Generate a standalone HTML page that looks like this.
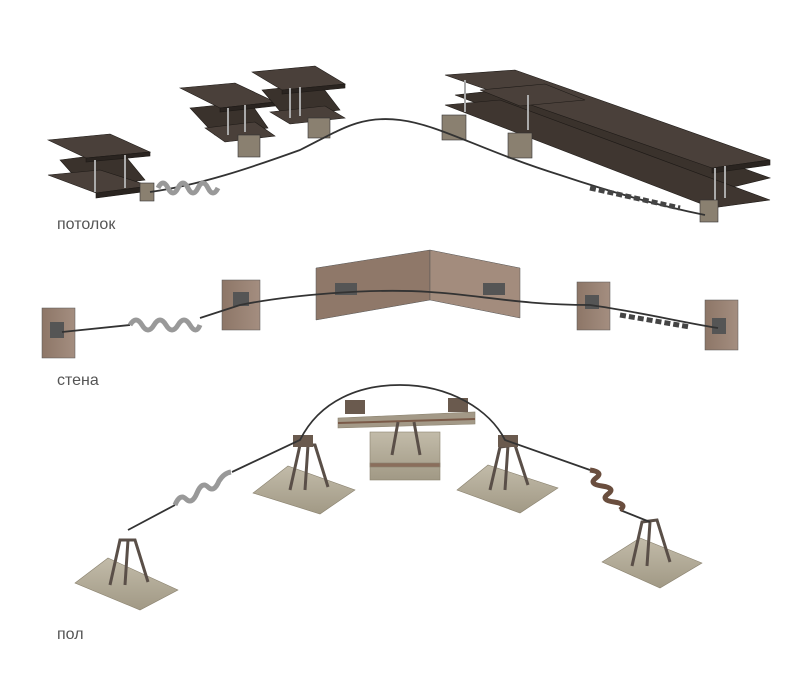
<!DOCTYPE html>
<html><head><meta charset="utf-8"><style>
html,body{margin:0;padding:0;background:#fff;}
.wrap{position:relative;width:800px;height:677px;overflow:hidden;background:#fff;}
.lbl{position:absolute;font-family:"Liberation Sans",sans-serif;font-size:16px;color:#555;}
svg{position:absolute;left:0;top:0;}
</style></head><body><div class="wrap">
<svg width="800" height="677" viewBox="0 0 800 677">
<defs>
<linearGradient id="wall" x1="0" y1="0" x2="1" y2="0"><stop offset="0" stop-color="#8d7667"/><stop offset="1" stop-color="#a48e80"/></linearGradient>
<linearGradient id="plate" x1="0" y1="0" x2="0" y2="1"><stop offset="0" stop-color="#c2bba9"/><stop offset="1" stop-color="#a19985"/></linearGradient>
</defs>
<!-- CEILING beams (I-beams) -->
<g stroke="#1e1a17" stroke-width="0.6">
<!-- left beam -->
<polygon points="60,160 122,152 145,180 85,188" fill="#3a322c"/>
<polygon points="48,140 110,134 150,152 86,158" fill="#4a403a"/>
<polygon points="86,158 150,152 150,156 86,162" fill="#2a2420"/>
<polygon points="48,175 100,170 150,186 96,193" fill="#4a403a"/>
<polygon points="96,193 150,186 150,191 96,198" fill="#2a2420"/>
<!-- beam 2 -->
<polygon points="190,108 250,102 268,128 215,135" fill="#3a322c"/>
<polygon points="180,88 235,83 275,102 220,108" fill="#4a403a"/>
<polygon points="220,108 275,102 275,106 220,112" fill="#2a2420"/>
<polygon points="205,128 255,122 275,136 225,142" fill="#4a403a"/>
<!-- beam 3 -->
<polygon points="262,90 320,84 340,110 285,117" fill="#3a322c"/>
<polygon points="252,72 315,66 345,84 282,90" fill="#4a403a"/>
<polygon points="282,90 345,84 345,88 282,94" fill="#2a2420"/>
<polygon points="270,112 325,106 345,118 290,124" fill="#4a403a"/>
<!-- long beam -->
<polygon points="455,95 520,88 770,178 712,192" fill="#3a322c"/>
<polygon points="445,75 515,70 770,160 712,168" fill="#4a403a"/>
<polygon points="712,168 770,160 770,165 712,173" fill="#2a2420"/>
<polygon points="445,105 500,100 770,200 712,208" fill="#3f3630"/>
<polygon points="480,90 545,84 585,100 520,106" fill="#4a403a"/>
</g>
<g stroke="#aaa" stroke-width="2">
<line x1="95" y1="160" x2="95" y2="192"/><line x1="125" y1="155" x2="125" y2="188"/>
<line x1="228" y1="108" x2="228" y2="135"/><line x1="245" y1="105" x2="245" y2="132"/>
<line x1="290" y1="88" x2="290" y2="118"/><line x1="300" y1="87" x2="300" y2="116"/>
<line x1="465" y1="80" x2="465" y2="112"/><line x1="528" y1="95" x2="528" y2="130"/>
<line x1="715" y1="168" x2="715" y2="200"/><line x1="725" y1="166" x2="725" y2="198"/>
</g>
<g fill="#8a8070" stroke="#333" stroke-width="0.6">
<rect x="238" y="135" width="22" height="22"/><rect x="308" y="118" width="22" height="20"/>
<rect x="442" y="115" width="24" height="25"/><rect x="508" y="133" width="24" height="25"/>
<rect x="140" y="183" width="14" height="18"/><rect x="700" y="200" width="18" height="22"/>
</g>
<path d="M150,192 C200,185 250,168 300,150 C340,130 360,115 400,120 C440,125 480,150 560,175 C620,195 670,208 705,215" fill="none" stroke="#333" stroke-width="1.8"/>
<path d="M158,188 q5,-10 10,0 q5,10 10,0 q5,-10 10,0 q5,10 10,0 q5,-10 10,0 q5,10 10,0" fill="none" stroke="#999" stroke-width="5"/>
<path d="M590,188 l90,20" stroke="#444" stroke-width="5" stroke-dasharray="6 3" fill="none"/>
<!-- WALL -->
<g stroke="#555" stroke-width="0.5">
<rect x="42" y="308" width="33" height="50" fill="url(#wall)"/>
<rect x="222" y="280" width="38" height="50" fill="url(#wall)"/>
<polygon points="316,268 430,250 430,300 316,320" fill="#8f7869"/>
<polygon points="430,250 520,268 520,318 430,300" fill="#a38c7d"/>
<rect x="577" y="282" width="33" height="48" fill="url(#wall)"/>
<rect x="705" y="300" width="33" height="50" fill="url(#wall)"/>
</g>
<g fill="#555"><rect x="50" y="322" width="14" height="16"/><rect x="233" y="292" width="16" height="14"/><rect x="335" y="283" width="22" height="12"/><rect x="483" y="283" width="22" height="12"/><rect x="585" y="295" width="14" height="14"/><rect x="712" y="318" width="14" height="16"/></g>
<path d="M62,332 L130,325 M200,318 L240,305 C290,295 370,288 430,292 C480,295 520,305 590,305 C640,312 680,322 718,328" fill="none" stroke="#333" stroke-width="1.8"/>
<path d="M130,325 q6,-10 12,0 q6,10 12,0 q6,-10 12,0 q6,10 12,0 q6,-10 12,0 q6,10 10,0" fill="none" stroke="#999" stroke-width="5"/>
<path d="M620,315 l70,12" stroke="#444" stroke-width="5" stroke-dasharray="6 3" fill="none"/>
<!-- FLOOR -->
<g stroke="#8a826f" stroke-width="0.6">
<polygon points="75,583 108,558 178,590 140,610" fill="url(#plate)"/>
<polygon points="253,493 288,466 355,490 320,514" fill="url(#plate)"/>
<polygon points="338,418 475,412 475,424 338,428" fill="#a39987"/>
<line x1="338" y1="423" x2="475" y2="419" stroke="#7a5a48" stroke-width="2"/>
<rect x="370" y="432" width="70" height="48" fill="url(#plate)"/>
<rect x="370" y="463" width="70" height="4" fill="#8a6e5c"/>
<polygon points="457,490 488,465 558,488 520,513" fill="url(#plate)"/>
<polygon points="602,562 640,538 702,563 660,588" fill="url(#plate)"/>
</g>
<g fill="none" stroke="#5a4f48" stroke-width="3">
<path d="M110,585 L120,540 L135,540 L148,582 M125,585 L128,540"/>
<path d="M290,490 L300,445 L315,445 L328,487 M305,490 L308,445"/>
<path d="M490,490 L500,447 L515,445 L528,485 M505,490 L508,445"/>
<path d="M632,566 L642,522 L657,520 L670,562 M647,566 L650,522"/>
<path d="M392,455 L398,422 M420,455 L414,422"/>
</g>
<g fill="#6a5a4e"><rect x="345" y="400" width="20" height="14"/><rect x="448" y="398" width="20" height="14"/><rect x="293" y="435" width="20" height="12"/><rect x="498" y="435" width="20" height="12"/></g>
<path d="M128,530 L175,505 M232,472 L300,440 C320,400 360,385 400,385 C450,385 490,410 505,440 L590,470 M620,510 L650,522" fill="none" stroke="#333" stroke-width="1.8"/>
<path d="M175,505 q5,-12 11,-6 q6,6 11,-6 q5,-12 11,-6 q6,6 11,-6 q5,-8 12,-9" fill="none" stroke="#999" stroke-width="5"/>
<path d="M590,470 q14,2 6,8 q-8,6 6,8 q14,2 6,8 q-8,6 6,8 q14,2 6,8" fill="none" stroke="#6a4e3e" stroke-width="5"/>
</svg>
<div class="lbl" style="left:57px;top:216px;">потолок</div>
<div class="lbl" style="left:57px;top:372px;">стена</div>
<div class="lbl" style="left:57px;top:626px;">пол</div>
</div></body></html>
